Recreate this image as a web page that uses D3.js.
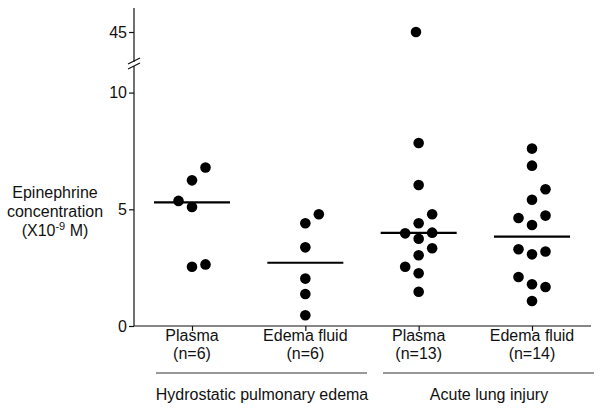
<!DOCTYPE html><html><head><meta charset="utf-8">
<script src="https://cdn.jsdelivr.net/npm/d3@7"></script>
<style>body{margin:0;background:#fff}text{font-family:Arial,"Liberation Sans",sans-serif;fill:#111}</style></head><body>
<svg id="c" width="601" height="411"></svg>
<script>
const categories=["Plasma","Edema fluid","Plasma","Edema fluid"];
const counts=["(n=6)","(n=6)","(n=13)","(n=14)"];
const groups=["Hydrostatic pulmonary edema","Acute lung injury"];
const g1=[[6.79,1],[6.24,0],[5.36,-1],[5.10,0],[2.54,0],[2.64,1]];
const g2=[[4.79,1],[4.4,0],[3.37,0],[2.03,0],[1.37,0],[0.46,0]];
const g3=[[45,-0.2],[7.84,0],[6.04,0],[4.79,1],[4.4,0],[3.97,-1],[4.0,1],[3.74,0],[3.33,1],[3.03,0],[2.54,-1],[2.26,0],[1.47,0]];
const g4=[[7.6,0],[6.87,0],[5.86,1],[5.41,0],[4.63,-1],[4.73,1],[4.33,0],[3.29,-1],[3.07,0],[3.19,1],[2.1,-1],[1.79,0],[1.67,1],[1.07,0]];
const means=[5.3,2.71,3.99,3.83];
const series=[g1,g2,g3,g4];
const svg=d3.select("#c");
const fs="16px";
const x=d3.scalePoint().domain(d3.range(4)).range([192,532]);
const y=d3.scaleLinear().domain([0,10]).range([326,92.6]);
const yTop=d3.scaleLinear().domain([44,46]).range([46,18]);
const yy=v=>v>20?yTop(v):y(v);
svg.append("g").attr("transform","translate(134,0)").call(d3.axisLeft(y).tickValues([0,5,10]).tickFormat(d3.format("d")).tickSize(5).tickPadding(2))
 .call(g=>{g.select(".domain").attr("d","M0,66V326");g.selectAll("text").style("font-size",fs);});
svg.append("g").attr("transform","translate(134,0)").call(d3.axisLeft(yTop).tickValues([45]).tickFormat(d3.format("d")).tickSize(5).tickPadding(2))
 .call(g=>{g.select(".domain").attr("d","M0,8V62");g.selectAll("text").style("font-size",fs);});
svg.append("path").attr("d","M128,64L140,58M128,69L140,63").attr("stroke","#111").attr("stroke-width",1.2);
svg.append("g").attr("transform","translate(0,326)").call(d3.axisBottom(x).tickSize(5).tickFormat(""))
 .call(g=>g.select(".domain").attr("d","M134,0H591"));
svg.selectAll("g.tick line,.domain").attr("stroke","#111").attr("stroke-width",1.2);
categories.forEach((c,i)=>{
 svg.append("text").attr("x",x(i)).attr("y",341).attr("text-anchor","middle").style("font-size",fs).text(c);
 svg.append("text").attr("x",x(i)).attr("y",359).attr("text-anchor","middle").style("font-size",fs).text(counts[i]);
});
svg.append("line").attr("x1",156).attr("x2",367).attr("y1",373).attr("y2",373).attr("stroke","#333");
svg.append("line").attr("x1",383).attr("x2",594).attr("y1",373).attr("y2",373).attr("stroke","#333");
svg.append("text").attr("x",262).attr("y",400).attr("text-anchor","middle").style("font-size",fs).text(groups[0]);
svg.append("text").attr("x",489).attr("y",400).attr("text-anchor","middle").style("font-size",fs).text(groups[1]);
const yl=svg.append("text").attr("text-anchor","middle").style("font-size",fs);
yl.append("tspan").attr("x",55).attr("y",198).text("Epinephrine");
yl.append("tspan").attr("x",55).attr("y",217).text("concentration");
yl.append("tspan").attr("x",55).attr("y",236).text("(X10");
yl.append("tspan").attr("dy",-6).style("font-size","11px").text("-9");
yl.append("tspan").attr("dy",6).text(" M)");
series.forEach((s,i)=>{
 svg.append("g").selectAll("circle").data(s).join("circle")
  .attr("cx",d=>x(i)+d[1]*13.5).attr("cy",d=>yy(d[0])).attr("r",5.3).attr("fill","#000");
 svg.append("line").attr("x1",x(i)-38).attr("x2",x(i)+38).attr("y1",y(means[i])).attr("y2",y(means[i])).attr("stroke","#000").attr("stroke-width",2.2);
});
</script></body></html>
